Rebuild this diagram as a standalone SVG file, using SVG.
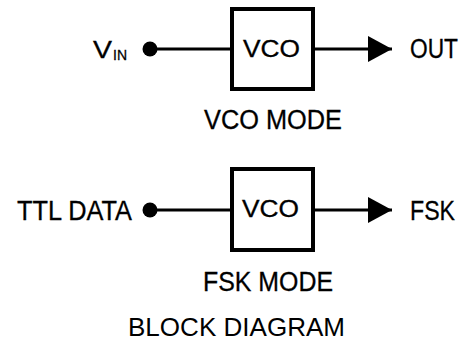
<svg xmlns="http://www.w3.org/2000/svg" width="472" height="341" viewBox="0 0 472 341">
<defs>
<style>
.t{font-family:"Liberation Sans",Arial,sans-serif;fill:#000;font-size:27px;stroke:#000;stroke-width:0.3}
.s{font-size:24px}
.box{fill:#fff;stroke:#000;stroke-width:4}
.ln{stroke:#000;stroke-width:3;fill:none}
</style>
<marker id="arr" markerUnits="userSpaceOnUse" markerWidth="26" markerHeight="28" refX="24" refY="13" orient="auto">
<path d="M0,0 L24,13 L0,26 Z" fill="#000"/>
</marker>
</defs>
<rect width="472" height="341" fill="#fff"/>
<g id="connectors">
<line class="ln" x1="150" y1="49" x2="232" y2="49"/>
<line class="ln" x1="313" y1="49" x2="392" y2="49" marker-end="url(#arr)"/>
<circle cx="150" cy="49" r="7.5" fill="#000"/>
<line class="ln" x1="150" y1="210" x2="232" y2="210"/>
<line class="ln" x1="313" y1="210" x2="392" y2="210" marker-end="url(#arr)"/>
<circle cx="150" cy="210" r="7.5" fill="#000"/>
</g>
<g id="vco1">
<rect class="box" x="232" y="9" width="81" height="80"/>
<text class="t s" x="243" y="57" textLength="57" lengthAdjust="spacingAndGlyphs">VCO</text>
</g>
<g id="vco2">
<rect class="box" x="232" y="169" width="81" height="81"/>
<text class="t s" x="242" y="217" textLength="57" lengthAdjust="spacingAndGlyphs">VCO</text>
</g>
<g id="vin">
<text class="t s" x="93" y="58" textLength="19" lengthAdjust="spacingAndGlyphs">V</text>
<text class="t" x="113" y="60" style="font-size:15px" textLength="14" lengthAdjust="spacingAndGlyphs">IN</text>
</g>
<g id="out"><text class="t" x="410" y="58" textLength="48" lengthAdjust="spacingAndGlyphs">OUT</text></g>
<g id="ttl"><text class="t" x="17" y="220" textLength="115" lengthAdjust="spacingAndGlyphs">TTL DATA</text></g>
<g id="fsk"><text class="t" x="410" y="220" textLength="45" lengthAdjust="spacingAndGlyphs">FSK</text></g>
<text class="t" x="204" y="129" textLength="138" lengthAdjust="spacingAndGlyphs">VCO MODE</text>
<text class="t" x="203" y="291" textLength="130" lengthAdjust="spacingAndGlyphs">FSK MODE</text>
<text class="t" x="128" y="336" style="stroke-width:0;font-size:26px" textLength="217" lengthAdjust="spacingAndGlyphs">BLOCK DIAGRAM</text>
</svg>
